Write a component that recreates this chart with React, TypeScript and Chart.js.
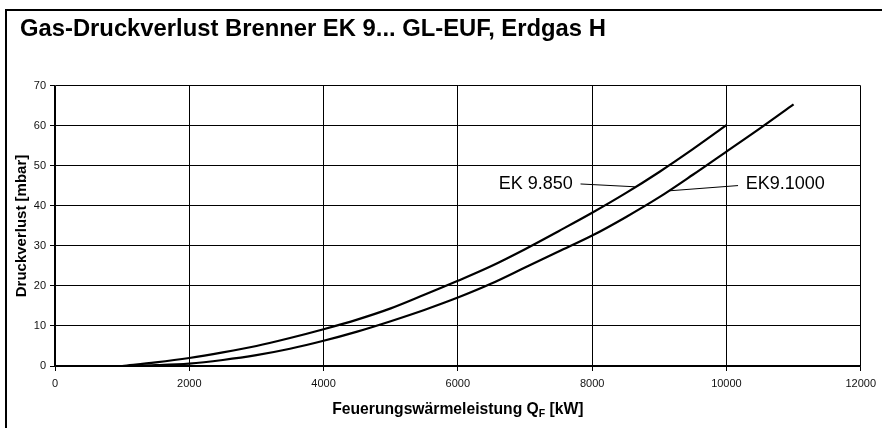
import React, { useEffect, useRef } from "react";
import { Chart, registerables } from "chart.js";

Chart.register(...registerables);

const chartTitle = "Gas-Druckverlust Brenner EK 9... GL-EUF, Erdgas H";
const yTitle = "Druckverlust [mbar]";
const xTitleMain = "Feuerungswärmeleistung Q";
const xTitleSub = "F";
const xTitleTail = " [kW]";

const xMin = 0;
const xMax = 12000;
const xStep = 2000;
const yMin = 0;
const yMax = 70;
const yStep = 10;

const seriesNames = ["EK 9.850", "EK9.1000"];

const loadEK850 = [1000, 1500, 2000, 2500, 3000, 3500, 4000, 4500, 5000, 5500, 6000, 6500, 7000, 7500, 8000, 8500, 9000, 9500, 10000];
const dropEK850 = [0, 0.9, 2.0, 3.4, 5.0, 7.0, 9.2, 11.6, 14.4, 17.8, 21.3, 25.0, 29.2, 33.7, 38.3, 43.2, 48.5, 54.2, 60.2];

const loadEK1000 = [1000, 1500, 2000, 2500, 3000, 3500, 4000, 4500, 5000, 5500, 6000, 6500, 7000, 7500, 8000, 8500, 9000, 9500, 10000, 10500, 11000];
const dropEK1000 = [0, 0.2, 0.6, 1.5, 2.7, 4.3, 6.3, 8.6, 11.2, 14.0, 17.1, 20.6, 24.6, 28.6, 32.6, 37.2, 42.2, 47.8, 53.6, 59.4, 65.4];

// annotation labels (data units)
const annText = ["EK 9.850", "EK9.1000"];
const annAlign = ["right", "left"];
const annTextX = [7712, 10287];
const annTextY = [45.5, 45.5];
const annFromX = [7827, 10173];
const annFromY = [45.5, 45.1];
const annToX = [8635, 9156];
const annToY = [44.8, 43.8];

const FONT = "'Liberation Sans', Arial, sans-serif";

const decorPlugin = {
  id: "decor",
  beforeDraw(chart: any) {
    const { ctx, width, height } = chart;
    ctx.save();
    ctx.fillStyle = "#fff";
    ctx.fillRect(0, 0, width, height);
    ctx.strokeStyle = "#000";
    ctx.lineWidth = 2;
    ctx.beginPath();
    ctx.moveTo(6, height);
    ctx.lineTo(6, 10);
    ctx.lineTo(width, 10);
    ctx.stroke();
    ctx.restore();
  },
  afterDatasetsDraw(chart: any) {
    const { ctx, scales, chartArea } = chart;
    const xs = scales.x;
    const ys = scales.y;
    ctx.save();
    // annotations
    ctx.font = `18px ${FONT}`;
    ctx.fillStyle = "#000";
    ctx.textBaseline = "middle";
    for (let i = 0; i < annText.length; i++) {
      ctx.textAlign = annAlign[i] as CanvasTextAlign;
      ctx.fillText(annText[i], xs.getPixelForValue(annTextX[i]), ys.getPixelForValue(annTextY[i]));
      ctx.strokeStyle = "#000";
      ctx.lineWidth = 1;
      ctx.beginPath();
      ctx.moveTo(xs.getPixelForValue(annFromX[i]), ys.getPixelForValue(annFromY[i]));
      ctx.lineTo(xs.getPixelForValue(annToX[i]), ys.getPixelForValue(annToY[i]));
      ctx.stroke();
    }
    // x-axis title with subscript
    const mainFont = `bold 15.7px ${FONT}`;
    const subFont = `bold 10.5px ${FONT}`;
    ctx.font = mainFont;
    const w1 = ctx.measureText(xTitleMain).width;
    const w3 = ctx.measureText(xTitleTail).width;
    ctx.font = subFont;
    const w2 = ctx.measureText(xTitleSub).width;
    const total = w1 + w2 + w3;
    const cx = (chartArea.left + chartArea.right) / 2;
    const baseY = 414;
    let x = cx - total / 2;
    ctx.textAlign = "left";
    ctx.textBaseline = "alphabetic";
    ctx.font = mainFont;
    ctx.fillText(xTitleMain, x, baseY);
    x += w1;
    ctx.font = subFont;
    ctx.fillText(xTitleSub, x, baseY + 3);
    x += w2;
    ctx.font = mainFont;
    ctx.fillText(xTitleTail, x, baseY);
    ctx.restore();
  },
};

export default function App() {
  const ref = useRef<HTMLCanvasElement | null>(null);

  useEffect(() => {
    if (!ref.current) return;
    const chart = new Chart(ref.current, {
      type: "line",
      data: {
        datasets: [
          {
            label: seriesNames[0],
            data: loadEK850.map((q, i) => ({ x: q, y: dropEK850[i] })),
            borderColor: "#000",
            borderWidth: 2.2,
            pointRadius: 0,
            cubicInterpolationMode: "monotone",
            fill: false,
          },
          {
            label: seriesNames[1],
            data: loadEK1000.map((q, i) => ({ x: q, y: dropEK1000[i] })),
            borderColor: "#000",
            borderWidth: 2.2,
            pointRadius: 0,
            cubicInterpolationMode: "monotone",
            fill: false,
          },
        ],
      },
      options: {
        responsive: false,
        animation: false,
        events: [],
        layout: { padding: { left: 20, top: 10, right: 21, bottom: 0 } },
        plugins: {
          legend: { display: false },
          tooltip: { enabled: false },
          title: {
            display: true,
            text: chartTitle,
            align: "start",
            color: "#000",
            font: { family: FONT, size: 23.8, weight: "bold" },
            padding: { top: 5, bottom: 42.4 },
          },
        },
        scales: {
          x: {
            type: "linear",
            min: xMin,
            max: xMax,
            ticks: {
              stepSize: xStep,
              color: "#111",
              font: { family: FONT, size: 11 },
              padding: 6,
              maxRotation: 0,
              callback: (v: any) => String(v),
            },
            grid: { color: "#000", lineWidth: 1, tickLength: 5 },
            border: { color: "#000", width: 1.5 },
            afterFit: (s: any) => {
              s.height = 62;
            },
          },
          y: {
            type: "linear",
            min: yMin,
            max: yMax,
            ticks: {
              stepSize: yStep,
              color: "#111",
              font: { family: FONT, size: 11 },
              padding: 4,
              callback: (v: any) => String(v),
            },
            title: {
              display: true,
              text: yTitle,
              color: "#000",
              font: { family: FONT, size: 15, weight: "bold" },
              padding: { top: -7, bottom: 0 },
            },
            grid: { color: "#000", lineWidth: 1, tickLength: 5 },
            border: { color: "#000", width: 1.5 },
            afterFit: (s: any) => {
              s.width = 35;
            },
          },
        },
      },
      plugins: [decorPlugin],
    } as any);
    return () => chart.destroy();
  }, []);

  return (
    <div style={{ position: "fixed", left: 0, top: 0, width: 882, height: 428, background: "#fff" }}>
      <canvas ref={ref} width={882} height={428} style={{ display: "block" }} />
    </div>
  );
}
